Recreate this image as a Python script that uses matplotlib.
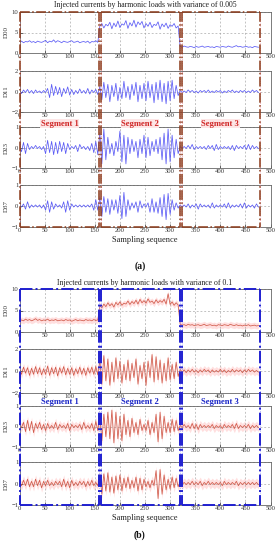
import numpy as np
import matplotlib
matplotlib.use("Agg")
import matplotlib.pyplot as plt
from matplotlib.lines import Line2D
from matplotlib.transforms import blended_transform_factory

plt.rcParams['font.family'] = ['Liberation Serif', 'DejaVu Serif']

# ---------------- data ----------------
step = 4
n_per_seg = 40
seg_names = ["Segment 1", "Segment 2", "Segment 3"]
seg_edges = [(0, 158), (162, 319), (323, 479)]
seg_label_x = [80, 240, 400]
xticks = [0, 50, 100, 150, 200, 250, 300, 350, 400, 450, 500]
ylabels = ["D00", "D11", "D23", "D37"]
ylims = [(0, 10), (-2, 2), (-1, 1), (-1, 1)]
yticks = [[0, 5, 10], [-2, 0, 2], [-1, 0, 1], [-1, 0, 1]]
titles = ["Injected currents by harmonic loads with variance of 0.005",
          "Injected currents by harmonic loads with variance of 0.1"]
panel_tags = ["(a)", "(b)"]

# panel (a) -- variance 0.005
a_d00_s1 = [2.6,2.9,2.5,2.8,2.7,3.0,2.6,2.8,2.5,2.9,2.7,2.6,2.8,3.1,2.5,2.9,2.7,3.2,2.6,3.0,2.8,2.5,2.9,2.7,2.6,2.8,3.0,2.6,2.7,2.9,2.5,2.7,2.8,2.6,2.9,2.4,2.8,2.7,3.0,2.6]
a_d00_s2 = [6.5,7.2,6.1,7.0,6.6,7.5,5.9,7.3,6.4,7.8,6.2,7.1,6.8,7.9,6.0,7.4,6.6,8.0,6.3,7.6,6.9,7.7,6.1,7.2,6.5,7.5,6.2,7.0,6.7,7.6,5.8,7.1,6.4,7.3,6.0,6.9,6.5,7.2,6.1,6.6]
a_d00_s3 = [1.6,1.4,1.7,1.5,1.4,1.6,1.5,1.3,1.6,1.4,1.5,1.7,1.4,1.5,1.6,1.4,1.5,1.3,1.6,1.5,1.4,1.6,1.5,1.4,1.7,1.5,1.4,1.6,1.8,1.5,1.6,1.4,1.5,1.6,1.4,1.5,1.3,1.6,1.5,1.4]

a_d11_s1 = [0.1,-0.2,0.15,-0.1,0.2,-0.15,0.1,-0.2,0.15,-0.1,0.05,-0.15,0.1,-0.1,0.3,-0.6,0.7,-0.4,0.5,-0.3,0.4,-0.5,0.3,-0.2,0.45,-0.35,0.2,-0.3,0.1,-0.2,0.25,-0.15,0.1,-0.2,0.3,-0.25,0.15,-0.1,0.2,-0.3]
a_d11_s2 = [0.5,-0.8,0.9,-0.6,0.7,-1.0,0.6,-0.5,0.8,-0.9,0.4,-0.7,1.0,-0.6,0.5,-0.8,0.7,-0.4,0.9,-1.0,0.6,-0.7,0.8,-0.9,1.0,-0.6,0.7,-1.1,0.9,-0.8,1.1,-1.0,0.8,-1.2,1.0,-0.9,1.1,-0.7,0.6,-0.4]
a_d11_s3 = [0.1,-0.1,0.05,-0.1,0.15,-0.05,0.1,-0.1,0.05,-0.15,0.1,-0.05,0.1,-0.1,0.15,-0.1,0.05,-0.1,0.1,-0.05,0.1,-0.15,0.05,-0.1,0.1,-0.05,0.15,-0.1,0.05,-0.1,0.1,-0.05,0.1,-0.1,0.05,-0.1,0.15,-0.05,0.1,-0.1]

a_d23_s1 = [0.05,-0.2,0.25,-0.3,0.2,-0.1,0.05,-0.05,0.1,-0.05,0.05,-0.1,0.05,-0.3,0.35,-0.25,0.3,-0.35,0.25,-0.3,0.3,-0.2,0.25,-0.3,0.2,-0.1,0.05,-0.05,0.1,-0.2,0.15,-0.05,0.05,-0.1,0.05,-0.15,0.2,-0.25,0.3,-0.35]
a_d23_s2 = [0.7,-0.8,0.9,-0.6,0.5,-0.3,0.2,-0.4,0.3,-0.2,0.8,-0.7,0.6,-0.8,0.5,-0.3,0.4,-0.2,0.3,-0.5,0.4,-0.3,0.6,-0.5,0.5,-0.4,0.3,-0.2,0.4,-0.3,0.5,-0.6,0.7,-0.8,0.9,-0.7,0.6,-0.5,0.4,-0.3]
a_d23_s3 = [0.05,-0.05,0.05,-0.05,0.1,-0.05,0.15,-0.1,0.05,-0.05,0.05,-0.05,0.05,-0.1,0.1,-0.05,0.1,-0.15,0.15,-0.1,0.05,-0.05,0.05,-0.05,0.05,-0.1,0.1,-0.15,0.1,-0.05,0.05,-0.05,0.1,-0.1,0.15,-0.1,0.1,-0.05,0.05,-0.05]

a_d37_s1 = [0.05,-0.05,0.1,-0.15,0.2,-0.1,0.05,-0.05,0.05,-0.05,0.05,-0.1,0.05,-0.2,0.25,-0.3,0.2,-0.15,0.1,-0.05,0.05,-0.1,0.2,-0.3,0.25,-0.2,0.1,-0.05,0.05,-0.05,0.05,-0.05,0.05,-0.05,0.05,-0.05,0.1,-0.2,0.3,-0.2]
a_d37_s2 = [0.4,-0.5,0.45,-0.3,0.35,-0.4,0.3,-0.2,0.3,-0.35,0.5,-0.6,0.65,-0.5,0.3,-0.2,0.15,-0.1,0.2,-0.3,0.25,-0.1,0.1,-0.05,0.15,-0.3,0.35,-0.3,0.2,-0.35,0.4,-0.5,0.55,-0.65,0.6,-0.4,0.3,-0.2,0.15,-0.1]
a_d37_s3 = [0.05,-0.05,0.05,-0.05,0.1,-0.1,0.05,-0.05,0.1,-0.15,0.1,-0.05,0.05,-0.05,0.05,-0.1,0.15,-0.1,0.05,-0.05,0.05,-0.05,0.1,-0.1,0.15,-0.1,0.05,-0.05,0.05,-0.05,0.1,-0.1,0.15,-0.1,0.05,-0.05,0.05,-0.1,0.1,-0.05]

# panel (b) -- variance 0.1
b_d00_s1 = [2.5,2.8,2.6,3.0,2.7,2.9,2.6,2.8,3.1,2.7,2.9,2.6,2.8,2.7,3.0,2.6,2.8,2.7,2.9,2.6,2.7,2.8,2.6,2.9,2.7,2.8,2.5,2.7,2.9,2.6,2.8,2.7,2.6,2.9,2.7,2.8,2.6,2.9,2.7,2.8]
b_d00_s2 = [6.2,5.6,6.5,5.9,6.8,6.1,6.6,5.8,6.9,6.3,7.0,6.2,6.7,6.5,7.2,6.4,7.1,6.6,7.4,6.5,7.6,6.8,7.3,6.7,7.7,6.9,7.2,6.6,7.5,6.8,7.3,6.9,7.6,6.5,8.9,6.4,7.0,6.2,6.8,6.3]
b_d00_s3 = [1.8,1.6,1.7,1.5,1.8,1.6,1.7,1.5,1.6,1.7,1.5,1.6,1.8,1.5,1.6,1.7,1.5,1.6,1.4,1.7,1.6,1.5,1.7,1.6,1.5,1.8,1.6,1.5,1.7,1.5,1.6,1.4,1.6,1.5,1.7,1.4,1.5,1.6,1.4,1.5]

b_d11_s1 = [0.2,-0.3,0.35,-0.2,0.3,-0.4,0.25,-0.3,0.4,-0.25,0.3,-0.35,0.2,-0.3,0.45,-0.4,0.3,-0.25,0.35,-0.45,0.3,-0.2,0.4,-0.35,0.25,-0.3,0.3,-0.4,0.2,-0.25,0.35,-0.3,0.25,-0.4,0.3,-0.2,0.35,-0.3,0.4,-0.35]
b_d11_s2 = [1.0,-1.2,1.4,-0.9,1.1,-1.3,0.8,-1.0,1.2,-0.7,0.9,-1.1,0.6,-0.8,1.0,-0.9,0.7,-0.6,1.1,-1.2,0.5,-0.7,0.8,-1.3,0.9,-0.6,1.5,-1.0,1.3,-0.8,1.0,-1.1,0.7,-0.9,1.2,-0.8,0.6,-0.7,0.8,-0.5]
b_d11_s3 = [0.15,-0.1,0.1,-0.15,0.1,-0.1,0.15,-0.1,0.05,-0.15,0.1,-0.1,0.15,-0.05,0.1,-0.15,0.1,-0.1,0.05,-0.1,0.15,-0.1,0.1,-0.15,0.05,-0.1,0.15,-0.1,0.1,-0.05,0.1,-0.15,0.1,-0.1,0.15,-0.05,0.1,-0.1,0.05,-0.1]

b_d23_s1 = [0.05,-0.05,0.2,-0.25,0.3,-0.2,0.25,-0.3,0.15,-0.1,0.2,-0.15,0.1,-0.2,0.15,-0.1,0.05,-0.1,0.2,-0.15,0.1,-0.05,0.05,-0.1,0.15,-0.2,0.1,-0.05,0.05,-0.05,0.1,-0.15,0.2,-0.1,0.05,-0.1,0.15,-0.2,0.25,-0.2]
b_d23_s2 = [0.5,-0.7,0.6,-0.5,0.7,-0.6,0.8,-0.8,0.7,-0.6,0.5,-0.7,0.6,-0.4,0.3,-0.5,0.4,-0.3,0.2,-0.4,0.35,-0.2,0.1,-0.2,0.3,-0.4,0.2,-0.3,0.6,-0.75,0.7,-0.6,0.5,-0.3,0.2,-0.3,0.35,-0.25,0.3,-0.2]
b_d23_s3 = [0.05,-0.05,0.1,-0.05,0.05,-0.1,0.15,-0.1,0.1,-0.15,0.1,-0.05,0.05,-0.05,0.05,-0.05,0.1,-0.1,0.05,-0.05,0.05,-0.1,0.1,-0.05,0.05,-0.05,0.1,-0.1,0.15,-0.1,0.05,-0.05,0.05,-0.05,0.1,-0.1,0.05,-0.05,0.05,-0.05]

b_d37_s1 = [0.05,-0.1,0.15,-0.1,0.2,-0.15,0.1,-0.15,0.2,-0.1,0.15,-0.2,0.1,-0.1,0.15,-0.1,0.05,-0.1,0.1,-0.05,0.1,-0.15,0.2,-0.15,0.1,-0.2,0.15,-0.1,0.05,-0.1,0.1,-0.05,0.1,-0.15,0.1,-0.1,0.15,-0.1,0.05,-0.1]
b_d37_s2 = [0.4,-0.5,0.45,-0.35,0.5,-0.4,0.3,-0.45,0.35,-0.3,0.4,-0.35,0.25,-0.2,0.3,-0.25,0.15,-0.2,0.3,-0.35,0.25,-0.3,0.2,-0.15,0.1,-0.2,0.15,-0.1,0.6,-0.7,0.65,-0.5,0.4,-0.3,0.2,-0.25,0.3,-0.2,0.25,-0.15]
b_d37_s3 = [0.05,-0.05,0.05,-0.05,0.05,-0.05,0.1,-0.05,0.05,-0.05,0.1,-0.1,0.05,-0.05,0.1,-0.05,0.05,-0.05,0.05,-0.05,0.05,-0.1,0.1,-0.05,0.05,-0.05,0.05,-0.05,0.1,-0.1,0.05,-0.05,0.05,-0.05,0.05,-0.05,0.05,-0.05,0.05,-0.05]

band_b = [0.7, 0.35, 0.2, 0.2]

panel_a = [a_d00_s1 + a_d00_s2 + a_d00_s3,
           a_d11_s1 + a_d11_s2 + a_d11_s3,
           a_d23_s1 + a_d23_s2 + a_d23_s3,
           a_d37_s1 + a_d37_s2 + a_d37_s3]
panel_b = [b_d00_s1 + b_d00_s2 + b_d00_s3,
           b_d11_s1 + b_d11_s2 + b_d11_s3,
           b_d23_s1 + b_d23_s2 + b_d23_s3,
           b_d37_s1 + b_d37_s2 + b_d37_s3]
xs = np.arange(3 * n_per_seg) * step

# ---------------- layout ----------------
W, H = 280, 550
fig = plt.figure(figsize=(W / 100, H / 100), dpi=100)
fig.patch.set_facecolor('white')

def rect(l, t, r, b):
    return [l / W, 1 - b / H, (r - l) / W, (b - t) / H]

L, R = 19.5, 270.5
rows_a = [(12, 53), (71, 112), (127, 168), (185, 227)]
rows_b = [(289, 332), (349, 393), (406, 447), (462, 505)]

styles = [
    dict(rows=rows_a, data=panel_a, line='#5a5af5', band=None,
         box='#8b3a1a', box2='#f07890', seg_col='#d02828', seg_bg='#fde6e6',
         title_y=5, xlabel_y=240, tag_y=266, seglab_y=123.5, lw_box=1.1),
    dict(rows=rows_b, data=panel_b, line='#d05a4a', band='#ffb8b8',
         box='#2020d0', box2='#8080ff', seg_col='#1c28c8', seg_bg=None,
         title_y=283, xlabel_y=518, tag_y=535, seglab_y=402.5, lw_box=1.4),
]

for p, st in enumerate(styles):
    axes = []
    for i, (t, b) in enumerate(st['rows']):
        ax = fig.add_axes(rect(L, t, R, b))
        y = np.array(st['data'][i])
        if st['band'] is not None:
            ax.fill_between(xs, y - band_b[i], y + band_b[i], color=st['band'],
                            alpha=0.45, lw=0)
        ax.plot(xs, y, color=st['line'], lw=0.55)
        ax.set_xlim(0, 500)
        ax.set_ylim(*ylims[i])
        ax.set_xticks(xticks)
        ax.set_yticks(yticks[i])
        ax.tick_params(labelsize=4.8, length=2, width=0.5, pad=0.8, direction='in',
                       colors='#333333')
        ax.grid(True, ls=(0, (3, 3)), color='#a0a0a0', lw=0.45)
        for s in ax.spines.values():
            s.set_color('#666666')
            s.set_linewidth(0.6)
        ax.set_ylabel(ylabels[i], fontsize=5, labelpad=2, color='#333333')
        axes.append(ax)

    top_ax, bot_ax = axes[0], axes[-1]
    trans = blended_transform_factory(top_ax.transData, fig.transFigure)
    y_top = 1 - st['rows'][0][0] / H
    y_bot = 1 - st['rows'][-1][1] / H
    for (x0, x1) in seg_edges:
        for xv in (x0, x1):
            fig.add_artist(Line2D([xv, xv], [y_top, y_bot], transform=trans,
                                  color=st['box2'], lw=0.6, ls=':', alpha=0.8))
            fig.add_artist(Line2D([xv, xv], [y_top, y_bot], transform=trans,
                                  color=st['box'], lw=st['lw_box'], ls='-.'))
        for yv in (y_top, y_bot):
            fig.add_artist(Line2D([x0, x1], [yv, yv], transform=trans,
                                  color=st['box'], lw=st['lw_box'], ls='-.'))

    ty = 1 - st['seglab_y'] / H
    for name, xc in zip(seg_names, seg_label_x):
        kw = {}
        if st['seg_bg']:
            kw['bbox'] = dict(facecolor=st['seg_bg'], edgecolor='none', pad=0.4)
        t = fig.text(0, ty, name, transform=trans, ha='center', va='center',
                     fontsize=6.2, fontweight='bold', color=st['seg_col'], **kw)
        t.set_x(xc)

    xc_fig = (L + R) / 2 / W
    fig.text(xc_fig, 1 - st['title_y'] / H, titles[p], ha='center', va='center',
             fontsize=5.6, color='#222222')
    fig.text(xc_fig, 1 - st['xlabel_y'] / H, "Sampling sequence", ha='center',
             va='center', fontsize=6, color='#222222')
    fig.text(0.5, 1 - st['tag_y'] / H, panel_tags[p], ha='center', va='center',
             fontsize=7, fontweight='bold', color='#111111')

fig.savefig("out.png", dpi=100, facecolor='white')
